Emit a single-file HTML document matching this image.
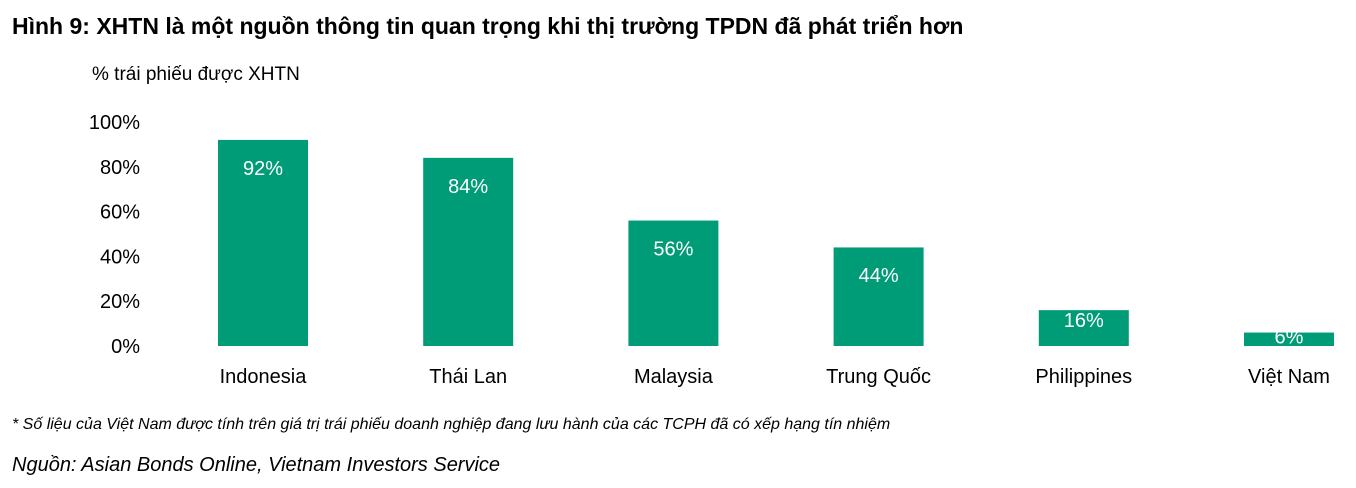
<!DOCTYPE html>
<html><head><meta charset="utf-8"><style>
body{margin:0;width:1356px;height:488px;background:#fff;font-family:"Liberation Sans",sans-serif;overflow:hidden;position:relative}
.t{position:absolute;white-space:nowrap}
</style></head><body>
<div class="t" style="left:12px;top:13px;font-size:23px;font-weight:bold;color:#000">Hình 9: XHTN là một nguồn thông tin quan trọng khi thị trường TPDN đã phát triển hơn</div>
<div class="t" style="left:92px;top:64px;font-size:19px;color:#000">% trái phiếu được XHTN</div>
<svg id="chart" width="1356" height="400" style="position:absolute;left:0;top:0"></svg>
<div class="t" style="left:12px;top:416px;font-size:16px;font-style:italic;color:#000">* Số liệu của Việt Nam được tính trên giá trị trái phiếu doanh nghiệp đang lưu hành của các TCPH đã có xếp hạng tín nhiệm</div>
<div class="t" style="left:12px;top:454px;font-size:20px;font-style:italic;color:#000">Nguồn: Asian Bonds Online, Vietnam Investors Service</div>
<script>
const categories=["Indonesia","Thái Lan","Malaysia","Trung Quốc","Philippines","Việt Nam"];
const values=[92,84,56,44,16,6];
const tickValues=[0,20,40,60,80,100];
const ns="http://www.w3.org/2000/svg";
const svg=document.getElementById('chart');
const y=v=>346-v*2.24;
const x=i=>263+i*205.2;
function mk(tag,attrs,txt){const e=document.createElementNS(ns,tag);for(const k in attrs)e.setAttribute(k,attrs[k]);if(txt!==undefined)e.textContent=txt;svg.appendChild(e);return e;}
tickValues.forEach(v=>{
  const t=mk('text',{x:140,y:y(v)+7,'text-anchor':'end','font-size':20,fill:'#000','font-family':'Liberation Sans'},v+'%');
  
  
});
values.forEach((v,i)=>{
  const top=y(v),h=346-top;
  const r=mk('rect',{x:x(i)-45,y:top,width:90,height:h,fill:'#009B77'});
  
  
  const ly=top+Math.min(28,h*0.28);
  const l=mk('text',{x:x(i),y:ly+7,'text-anchor':'middle','font-size':20,fill:'#fff','font-family':'Liberation Sans'},v+'%');
  
  
  const c=mk('text',{x:x(i),y:383,'text-anchor':'middle','font-size':20,fill:'#000','font-family':'Liberation Sans'},categories[i]);
  
  
});
</script>
</body></html>
